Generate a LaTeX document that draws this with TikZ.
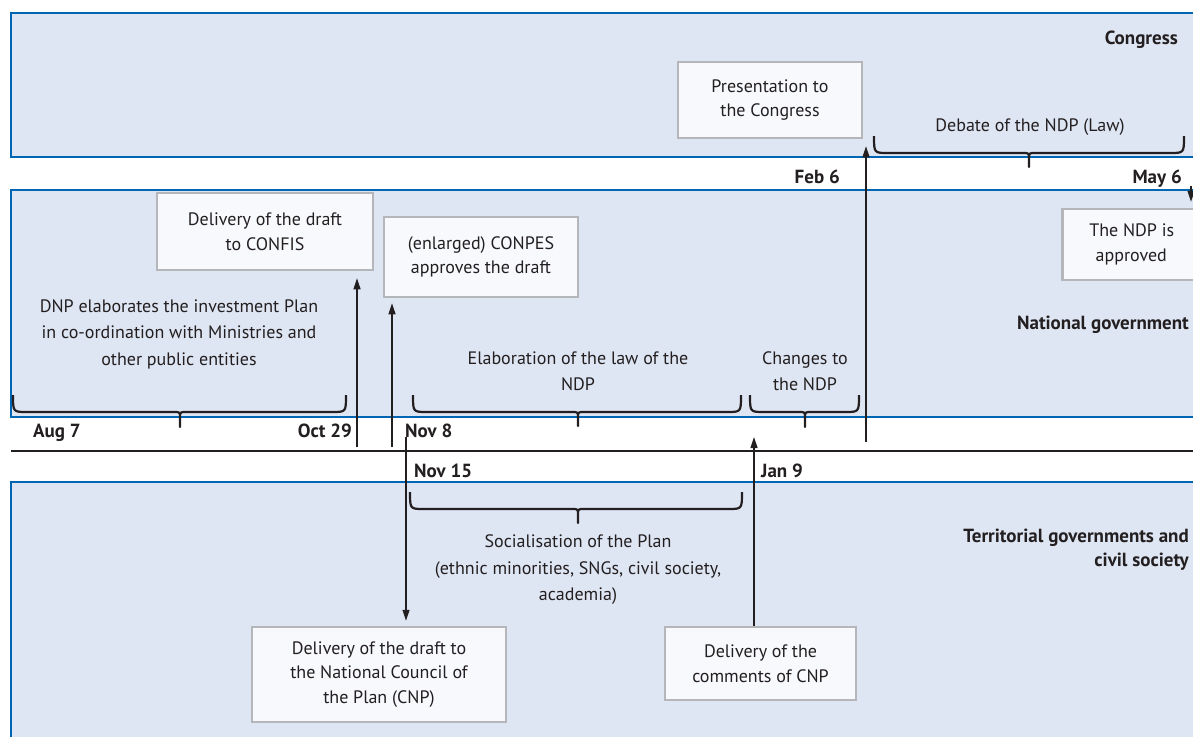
\documentclass[tikz,border=0pt]{standalone}
\usepackage{fontspec}
\setmainfont{PT Sans}
\usetikzlibrary{arrows.meta}

\definecolor{bandfill}{HTML}{DFE6F3}
\definecolor{bandblue}{HTML}{0066B3}
\definecolor{boxfill}{HTML}{F7F9FC}
\definecolor{boxgray}{HTML}{B4B6B9}
\definecolor{ink}{HTML}{231F20}

% brace under a period: xL, xR, xc, y of the ends, y of the bar, y of the tip
\newcommand\timebrace[6]{%
  \draw[periodbrace] (#1,#4) .. controls (#1,#5) .. (#1+14,#5) -- (#3-6,#5)
    .. controls (#3,#5) .. (#3,#5+6) -- (#3,#6) -- (#3,#5+6)
    .. controls (#3,#5) .. (#3+6,#5) -- (#2-14,#5) .. controls (#2,#5) .. (#2,#4);
}

\begin{document}
\begin{tikzpicture}[x=1pt,y=-1pt,
  band/.style={fill=bandfill,draw=bandblue,line width=2.8pt},
  stepbox/.style={draw=boxgray,fill=boxfill,line width=2.5pt,align=center,
    text=ink,font=\fontsize{18}{24.5}\selectfont,inner sep=0pt},
  plain/.style={align=center,text=ink,font=\fontsize{18}{26.5}\selectfont,inner sep=0pt},
  datelabel/.style={text=ink,font=\bfseries\fontsize{19}{22}\selectfont,inner sep=0pt},
  actor/.style={text=ink,font=\bfseries\fontsize{19}{24}\selectfont,inner sep=0pt,align=right},
  periodbrace/.style={draw=ink,line width=2.2pt,line join=round},
  flow/.style={draw=ink,line width=1.2pt,-{Triangle[length=11pt,width=7pt]}},
  timeline/.style={draw=ink,line width=1.4pt}]

\useasboundingbox (0,0) rectangle (1193,736);
\clip (0,0) rectangle (1193,736);
\fill[white] (0,0) rectangle (1193,736);

% the three swim lanes
\path[band] (1210,13) -- (11,13) -- (11,157) -- (1210,157);
\path[band] (1210,190) -- (11,190) -- (11,417) -- (1210,417);
\path[fill=bandfill] (1210,482) -- (11,482) -- (11,760) -- (1210,760) -- cycle;
\path[band,fill=none] (1210,482) -- (11,482) -- (11,760);

% time axis
\coordinate (axisL) at (11,451);
\coordinate (axisR) at (1200,451);
\draw[timeline] (axisL) -- (axisR);

% lane titles
\node[actor,anchor=east] (congress) at (1178,40) {Congress};
\node[actor,anchor=east] (natgov) at (1189,325) {National government};
\node[actor,anchor=east] (terr) at (1189,550) {Territorial governments and\\civil society};

% dates
\node[datelabel,anchor=base west] (aug) at (33,437) {Aug 7};
\node[datelabel,anchor=base east] (oct) at (352,437) {Oct 29};
\node[datelabel,anchor=base west] (nov8) at (405,437) {Nov 8};
\node[datelabel,anchor=base west] (nov15) at (414,477) {Nov 15};
\node[datelabel,anchor=base west] (jan) at (761,477) {Jan 9};
\node[datelabel,anchor=base east] (feb) at (840,183) {Feb 6};
\node[datelabel,anchor=base east] (may) at (1182,183) {May 6};

% milestones
\node[stepbox,minimum width=184pt,minimum height=76pt] (pres) at (770,100) {Presentation to\\the Congress};
\node[stepbox,minimum width=216pt,minimum height=77pt] (confis) at (265,231.5) {Delivery of the draft\\to CONFIS};
\node[stepbox,minimum width=194pt,minimum height=80pt] (conpes) at (481,257) {(enlarged) CONPES\\approves the draft};
\node[stepbox,minimum width=142pt,minimum height=71pt,anchor=west] (approved) at (1061,244.5) {\hspace*{-3pt}The NDP is\\\hspace*{-3pt}approved\hspace*{1pt}};
\node[stepbox,minimum width=254pt,minimum height=95pt] (cnp) at (379,674.5) {Delivery of the draft to\\the National Council of\\the Plan (CNP)};
\node[stepbox,minimum width=191pt,minimum height=73pt] (comments) at (760.5,663.5) {Delivery of the\\comments of CNP};

% periods
\node[plain] (dnp) at (179,334) {DNP elaborates the investment Plan\\in co-ordination with Ministries and\\other public entities};
\node[plain] (elab) at (578,371) {Elaboration of the law of the\\NDP};
\node[plain] (changes) at (805,371) {Changes to\\the NDP};
\node[plain] (social) at (578,570) {Socialisation of the Plan\\(ethnic minorities, SNGs, civil society,\\academia)};
\node[plain] (debate) at (1030,127) {Debate of the NDP (Law)};

\timebrace{13}{346}{180}{395}{412}{427}
\timebrace{413}{741}{578}{395}{412}{426}
\timebrace{750}{859}{805}{395}{412}{427}
\timebrace{410}{742}{578}{492}{509}{523}
\timebrace{874}{1184}{1029}{136}{153}{167}

% hand-overs between the lanes
\coordinate (tOct) at (357,447);
\coordinate (tConpes) at (392,447);
\coordinate (tNov) at (406,437);
\coordinate (tJan) at (754,437);
\coordinate (tFeb) at (866,442);
\coordinate (tMay) at (1191,186);
\draw[flow] (tOct) -- ([yshift=-7pt]tOct |- confis.south);
\draw[flow] (tConpes) -- ([yshift=-5pt]tConpes |- conpes.south);
\draw[flow] (tNov) -- ([yshift=5pt]tNov |- cnp.north);
\draw[flow] (tJan |- comments.north) -- (tJan);
\draw[flow] (tFeb) -- ([yshift=-7pt]tFeb |- pres.south);
\draw[flow] (tMay) -- ([yshift=6pt]tMay |- approved.north);

\end{tikzpicture}
\end{document}
